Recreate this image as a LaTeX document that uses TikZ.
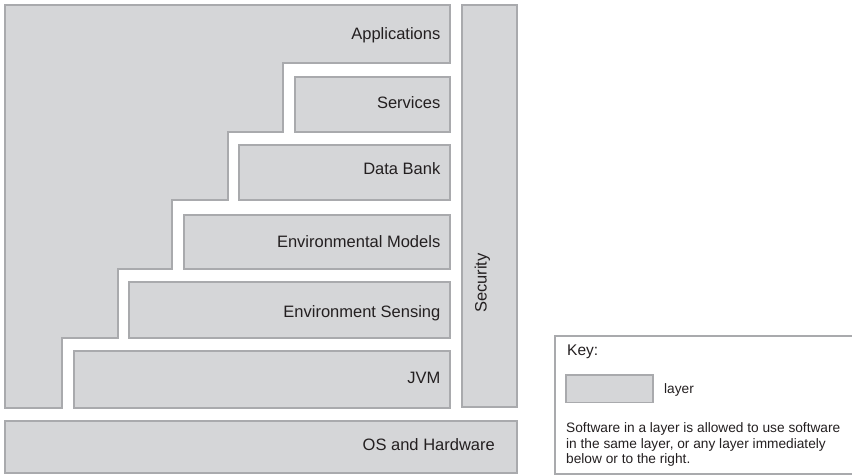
\documentclass[tikz,border=0pt]{standalone}
\usepackage{fontspec}
\setmainfont{Liberation Sans}
\definecolor{layerfill}{HTML}{D5D6D8}
\definecolor{layerline}{HTML}{A9AAAD}
\definecolor{txt}{HTML}{231F20}
\begin{document}
\begin{tikzpicture}[x=1pt,y=-1pt,
  layerbox/.style={fill=layerfill,draw=layerline,line width=1.3pt},
  keyline/.style={draw=layerline,line width=1.3pt},
  lbl/.style={anchor=base east,inner sep=0pt,text=txt,font=\fontsize{16.5}{19}\selectfont},
  keytxt/.style={anchor=base west,inner sep=0pt,text=txt,font=\fontsize{13.7}{15.5}\selectfont}]
\useasboundingbox (0,0) rectangle (852,475);
% Applications (stepped shape)
\draw[layerbox] (5,5) -- (450,5) -- (450,63) -- (283,63) -- (283,132) -- (228,132)
  -- (228,200) -- (172,200) -- (172,269) -- (118,269) -- (118,338) -- (62,338)
  -- (62,408) -- (5,408) -- cycle;
\draw[layerbox] (295,77) rectangle (450,132);
\draw[layerbox] (239,145) rectangle (450,200);
\draw[layerbox] (184,215) rectangle (450,269);
\draw[layerbox] (129,282) rectangle (450,338);
\draw[layerbox] (74,351) rectangle (450,408);
\draw[layerbox] (5,421) rectangle (517,473);
\draw[layerbox] (462,5) rectangle (517,407);
% labels
\node[lbl] (app) at (440.5,39.7) {Applications};
\node[lbl] (srv) at (440.5,108.7) {Services};
\node[lbl] (db) at (440.5,174) {Data Bank};
\node[lbl] (em) at (440.5,247.3) {Environmental Models};
\node[lbl] (es) at (440.5,317.7) {Environment Sensing};
\node[lbl] (jvm) at (440.5,383.3) {JVM};
\node[lbl] (os) at (495,450.7) {OS and Hardware};
\node[lbl,anchor=base west,rotate=90] (sec) at (486.7,313) {Security};
% key
\draw[keyline] (853,336) -- (555,336) -- (555,474) -- (853,474);
\node[keytxt,font=\fontsize{15.5}{18}\selectfont] (key) at (567,355) {Key:};
\draw[layerbox] (566,375) rectangle (653,402.7);
\node[keytxt] (layer) at (664,393.5) {layer};
\node[keytxt] (l1) at (566,432.5) {Software in a layer is allowed to use software};
\node[keytxt] (l2) at (566,448) {in the same layer, or any layer immediately};
\node[keytxt] (l3) at (566,463.5) {below or to the right.};
\end{tikzpicture}
\end{document}
